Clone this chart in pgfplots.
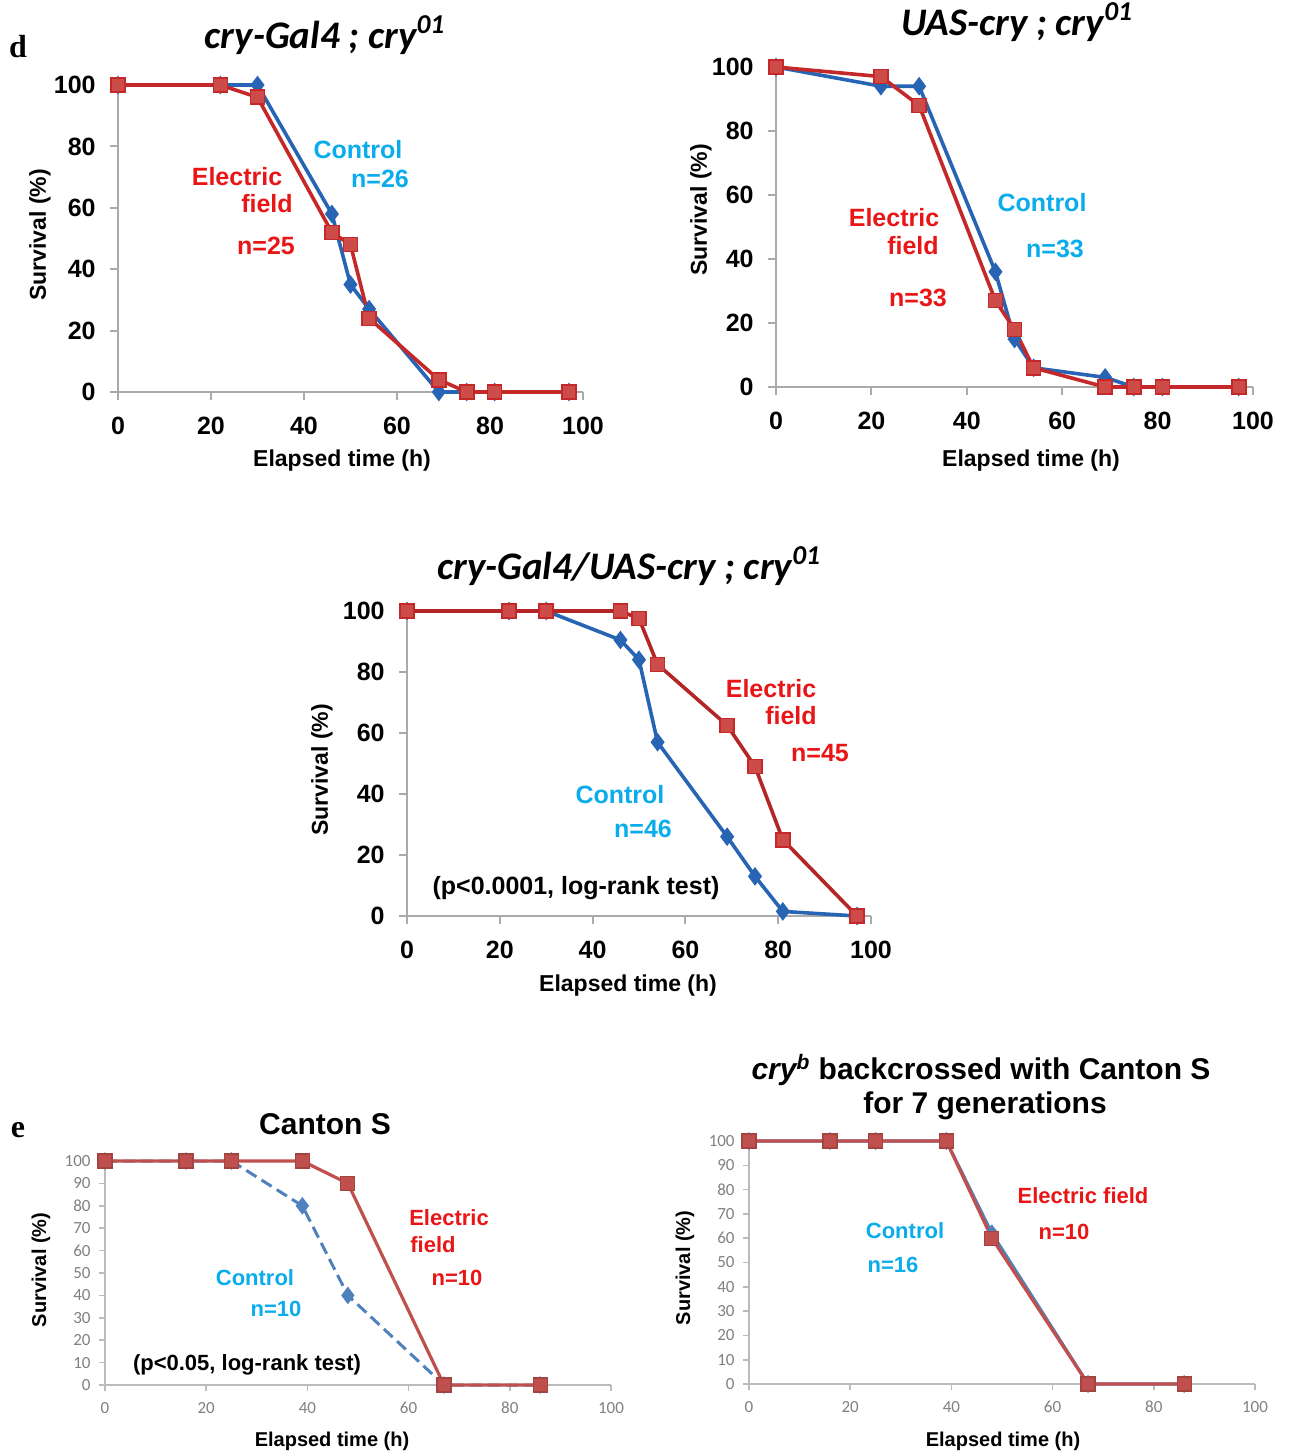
\documentclass[border=0pt]{standalone}
\usepackage{fontspec}
\usepackage{pgfplots}
\pgfplotsset{compat=1.18}
\setmainfont{Liberation Sans}
\newfontfamily\carlito{Carlito}
\newfontfamily\serifbf{Liberation Serif}

\definecolor{axgray}{RGB}{170,170,170}
\definecolor{redln}{RGB}{196,40,40}
\definecolor{redfill}{RGB}{205,75,72}
\definecolor{blueln}{RGB}{40,100,180}
\definecolor{exred}{RGB}{192,80,77}
\definecolor{exblue}{RGB}{79,129,189}
\definecolor{txtred}{RGB}{232,22,22}
\definecolor{txtcyan}{RGB}{10,172,235}

\newcommand{\tickA}{\fontsize{12.5}{14}\selectfont\bfseries}
\newcommand{\tickB}{\fontsize{8.5}{10}\selectfont\carlito}
\newcommand{\labA}{\fontsize{11.5}{13}\selectfont\bfseries}
\newcommand{\labB}{\fontsize{10}{12}\selectfont\bfseries}
\newcommand{\annA}{\fontsize{12.5}{15}\selectfont\bfseries}
\newcommand{\annB}{\fontsize{11}{13}\selectfont\bfseries}
\newcommand{\ttl}{\fontsize{19.5}{22}\selectfont\carlito\bfseries\itshape}

\pgfplotsset{
  base/.style={scale only axis, xmin=0, xmax=100, ymin=0, ymax=100,
    axis lines=left, axis line style={-, draw=axgray, line width=1.3pt},
    tick style={draw=axgray, line width=1pt}, tick align=outside,
    major tick length=4pt, xtick={0,20,...,100}, clip=false,
    /pgf/number format/assume math mode=true},
  top/.style={base, ytick={0,20,...,100},
    tick label style={font=\tickA},
    xticklabel style={anchor=center, inner sep=0pt, yshift=-13pt},
    yticklabel style={anchor=east, inner sep=0pt, xshift=-7pt}},
  bot/.style={base, ytick={0,10,...,100},
    axis line style={-, draw=axgray!80, line width=1pt},
    tick style={draw=axgray!80, line width=0.8pt}, major tick length=3pt,
    tick label style={font=\tickB, text=black!50},
    xticklabel style={anchor=center, inner sep=0pt, yshift=-8.5pt},
    yticklabel style={anchor=east, inner sep=0pt, xshift=-4pt}},
  redser/.style={redln, line width=1.8pt, mark=square*, mark size=3.5pt,
    mark options={fill=redfill, draw=redln, line width=0.8pt, solid}},
  blueser/.style={blueln, line width=1.8pt, mark=diamond*, mark size=3.2pt,
    mark options={fill=blueln, solid}},
  redB/.style={exred, line width=1.6pt, mark=square*, mark size=3.5pt,
    mark options={fill=exred, draw=exred!85!black, line width=0.6pt, solid}},
  blueB/.style={exblue, line width=1.6pt, mark=diamond*, mark size=3.2pt,
    mark options={fill=exblue, solid}},
}

\begin{document}
\begin{tikzpicture}
\useasboundingbox (0,0) rectangle (646pt,-728pt);

% ---- d, left: cry-Gal4 ; cry01
\begin{axis}[top, at={(59pt,-196pt)}, anchor=south west, width=232.5pt, height=153.5pt]
\addplot[blueser] coordinates {(0,100) (22,100) (30,100) (46,58) (50,35) (54,27) (69,0) (75,0) (81,0) (97,0)};
\addplot[redser] coordinates {(0,100) (22,100) (30,96) (46,52) (50,48) (54,24) (69,4) (75,0) (81,0) (97,0)};
\end{axis}

% ---- d, right: UAS-cry ; cry01
\begin{axis}[top, at={(388pt,-193.5pt)}, anchor=south west, width=238.5pt, height=160pt]
\addplot[blueser] coordinates {(0,100) (22,94) (30,94) (46,36) (50,15) (54,6) (69,3) (75,0) (81,0) (97,0)};
\addplot[redser] coordinates {(0,100) (22,97) (30,88) (46,27) (50,18) (54,6) (69,0) (75,0) (81,0) (97,0)};
\end{axis}

% ---- d, middle: cry-Gal4/UAS-cry ; cry01
\begin{axis}[top, at={(203.5pt,-458pt)}, anchor=south west, width=232pt, height=152.5pt]
\addplot[blueser] coordinates {(0,100) (22,100) (30,100) (46,90.5) (50,84) (54,57) (69,26) (75,13) (81,1.5) (97,0)};
\addplot[redser, redln!92!black] coordinates {(0,100) (22,100) (30,100) (46,100) (50,97.5) (54,82.5) (69,62.5) (75,49) (81,25) (97,0)};
\end{axis}

% ---- e, left: Canton S
\begin{axis}[bot, at={(52.5pt,-692.5pt)}, anchor=south west, width=253pt, height=112pt]
\addplot[blueB, dash pattern=on 6pt off 3pt, line width=1.5pt] coordinates {(0,100) (16,100) (25,100) (39,80) (48,40) (67,0) (86,0)};
\addplot[redB] coordinates {(0,100) (16,100) (25,100) (39,100) (48,90) (67,0) (86,0)};
\end{axis}

% ---- e, right: cry^b backcrossed
\begin{axis}[bot, at={(374.5pt,-692pt)}, anchor=south west, width=253pt, height=121.5pt]
\addplot[blueB] coordinates {(0,100) (16,100) (25,100) (39,100) (48,62) (67,0) (86,0)};
\addplot[redB] coordinates {(0,100) (16,100) (25,100) (39,100) (48,60) (67,0) (86,0)};
\end{axis}

% panel letters
\node[font=\fontsize{16}{18}\selectfont\serifbf\bfseries] at (9pt,-23.5pt) {d};
\node[font=\fontsize{16}{18}\selectfont\serifbf\bfseries] at (9pt,-565pt) {e};

% titles
\node[font=\ttl] at (162.5pt,-17.5pt) {cry-Gal4 ; cry\textsuperscript{01}};
\node[font=\ttl] at (508.5pt,-11pt) {UAS-cry ; cry\textsuperscript{01}};
\node[font=\ttl] at (314.5pt,-283pt) {cry-Gal4/UAS-cry ; cry\textsuperscript{01}};
\node[font=\fontsize{15}{18}\selectfont\bfseries] at (162.5pt,-562pt) {Canton S};
\node[font=\fontsize{15}{18}\selectfont\bfseries] at (490.5pt,-535pt) {\textit{cry\textsuperscript{b}} backcrossed with Canton S};
\node[font=\fontsize{15}{18}\selectfont\bfseries] at (492.5pt,-553pt) {for 7 generations};

% axis labels
\node[font=\labA, rotate=90] at (20pt,-117.5pt) {Survival (\%)};
\node[font=\labA] at (171pt,-230.5pt) {Elapsed time (h)};
\node[font=\labA, rotate=90] at (350.5pt,-105pt) {Survival (\%)};
\node[font=\labA] at (515.5pt,-230.5pt) {Elapsed time (h)};
\node[font=\labA, rotate=90] at (161pt,-385pt) {Survival (\%)};
\node[font=\labA] at (314pt,-493pt) {Elapsed time (h)};
\node[font=\labB, rotate=90] at (20.5pt,-635pt) {Survival (\%)};
\node[font=\labB] at (166pt,-720.5pt) {Elapsed time (h)};
\node[font=\labB, rotate=90] at (342.5pt,-634pt) {Survival (\%)};
\node[font=\labB] at (501.5pt,-720.5pt) {Elapsed time (h)};

% annotations, panel d left
\node[font=\annA, text=txtcyan] at (179pt,-75pt) {Control};
\node[font=\annA, text=txtcyan] at (190pt,-89.5pt) {n=26};
\node[font=\annA, text=txtred] at (118.5pt,-88.5pt) {Electric};
\node[font=\annA, text=txtred] at (133.5pt,-102pt) {field};
\node[font=\annA, text=txtred] at (133pt,-123pt) {n=25};
% panel d right
\node[font=\annA, text=txtred] at (447pt,-109pt) {Electric};
\node[font=\annA, text=txtred] at (456.5pt,-123pt) {field};
\node[font=\annA, text=txtred] at (459pt,-149pt) {n=33};
\node[font=\annA, text=txtcyan] at (521pt,-101.5pt) {Control};
\node[font=\annA, text=txtcyan] at (527.5pt,-124.5pt) {n=33};
% panel d middle
\node[font=\annA, text=txtred] at (385.5pt,-344.5pt) {Electric};
\node[font=\annA, text=txtred] at (395.5pt,-358pt) {field};
\node[font=\annA, text=txtred] at (410pt,-376.5pt) {n=45};
\node[font=\annA, text=txtcyan] at (310pt,-397.5pt) {Control};
\node[font=\annA, text=txtcyan] at (321.5pt,-414.5pt) {n=46};
\node[font=\annA] at (288pt,-444pt) {(p<0.0001, log-rank test)};
% panel e left
\node[font=\annB, text=txtred] at (224.5pt,-609pt) {Electric};
\node[font=\annB, text=txtred] at (216.5pt,-622.5pt) {field};
\node[font=\annB, text=txtred] at (228.5pt,-639pt) {n=10};
\node[font=\annB, text=txtcyan] at (127.5pt,-639pt) {Control};
\node[font=\annB, text=txtcyan] at (138pt,-654.5pt) {n=10};
\node[font=\annB] at (123.5pt,-682.5pt) {(p<0.05, log-rank test)};
% panel e right
\node[font=\annB, text=txtred] at (541.5pt,-598pt) {Electric field};
\node[font=\annB, text=txtred] at (532pt,-616pt) {n=10};
\node[font=\annB, text=txtcyan] at (452.5pt,-615.5pt) {Control};
\node[font=\annB, text=txtcyan] at (446.5pt,-632.5pt) {n=16};
\end{tikzpicture}
\end{document}
